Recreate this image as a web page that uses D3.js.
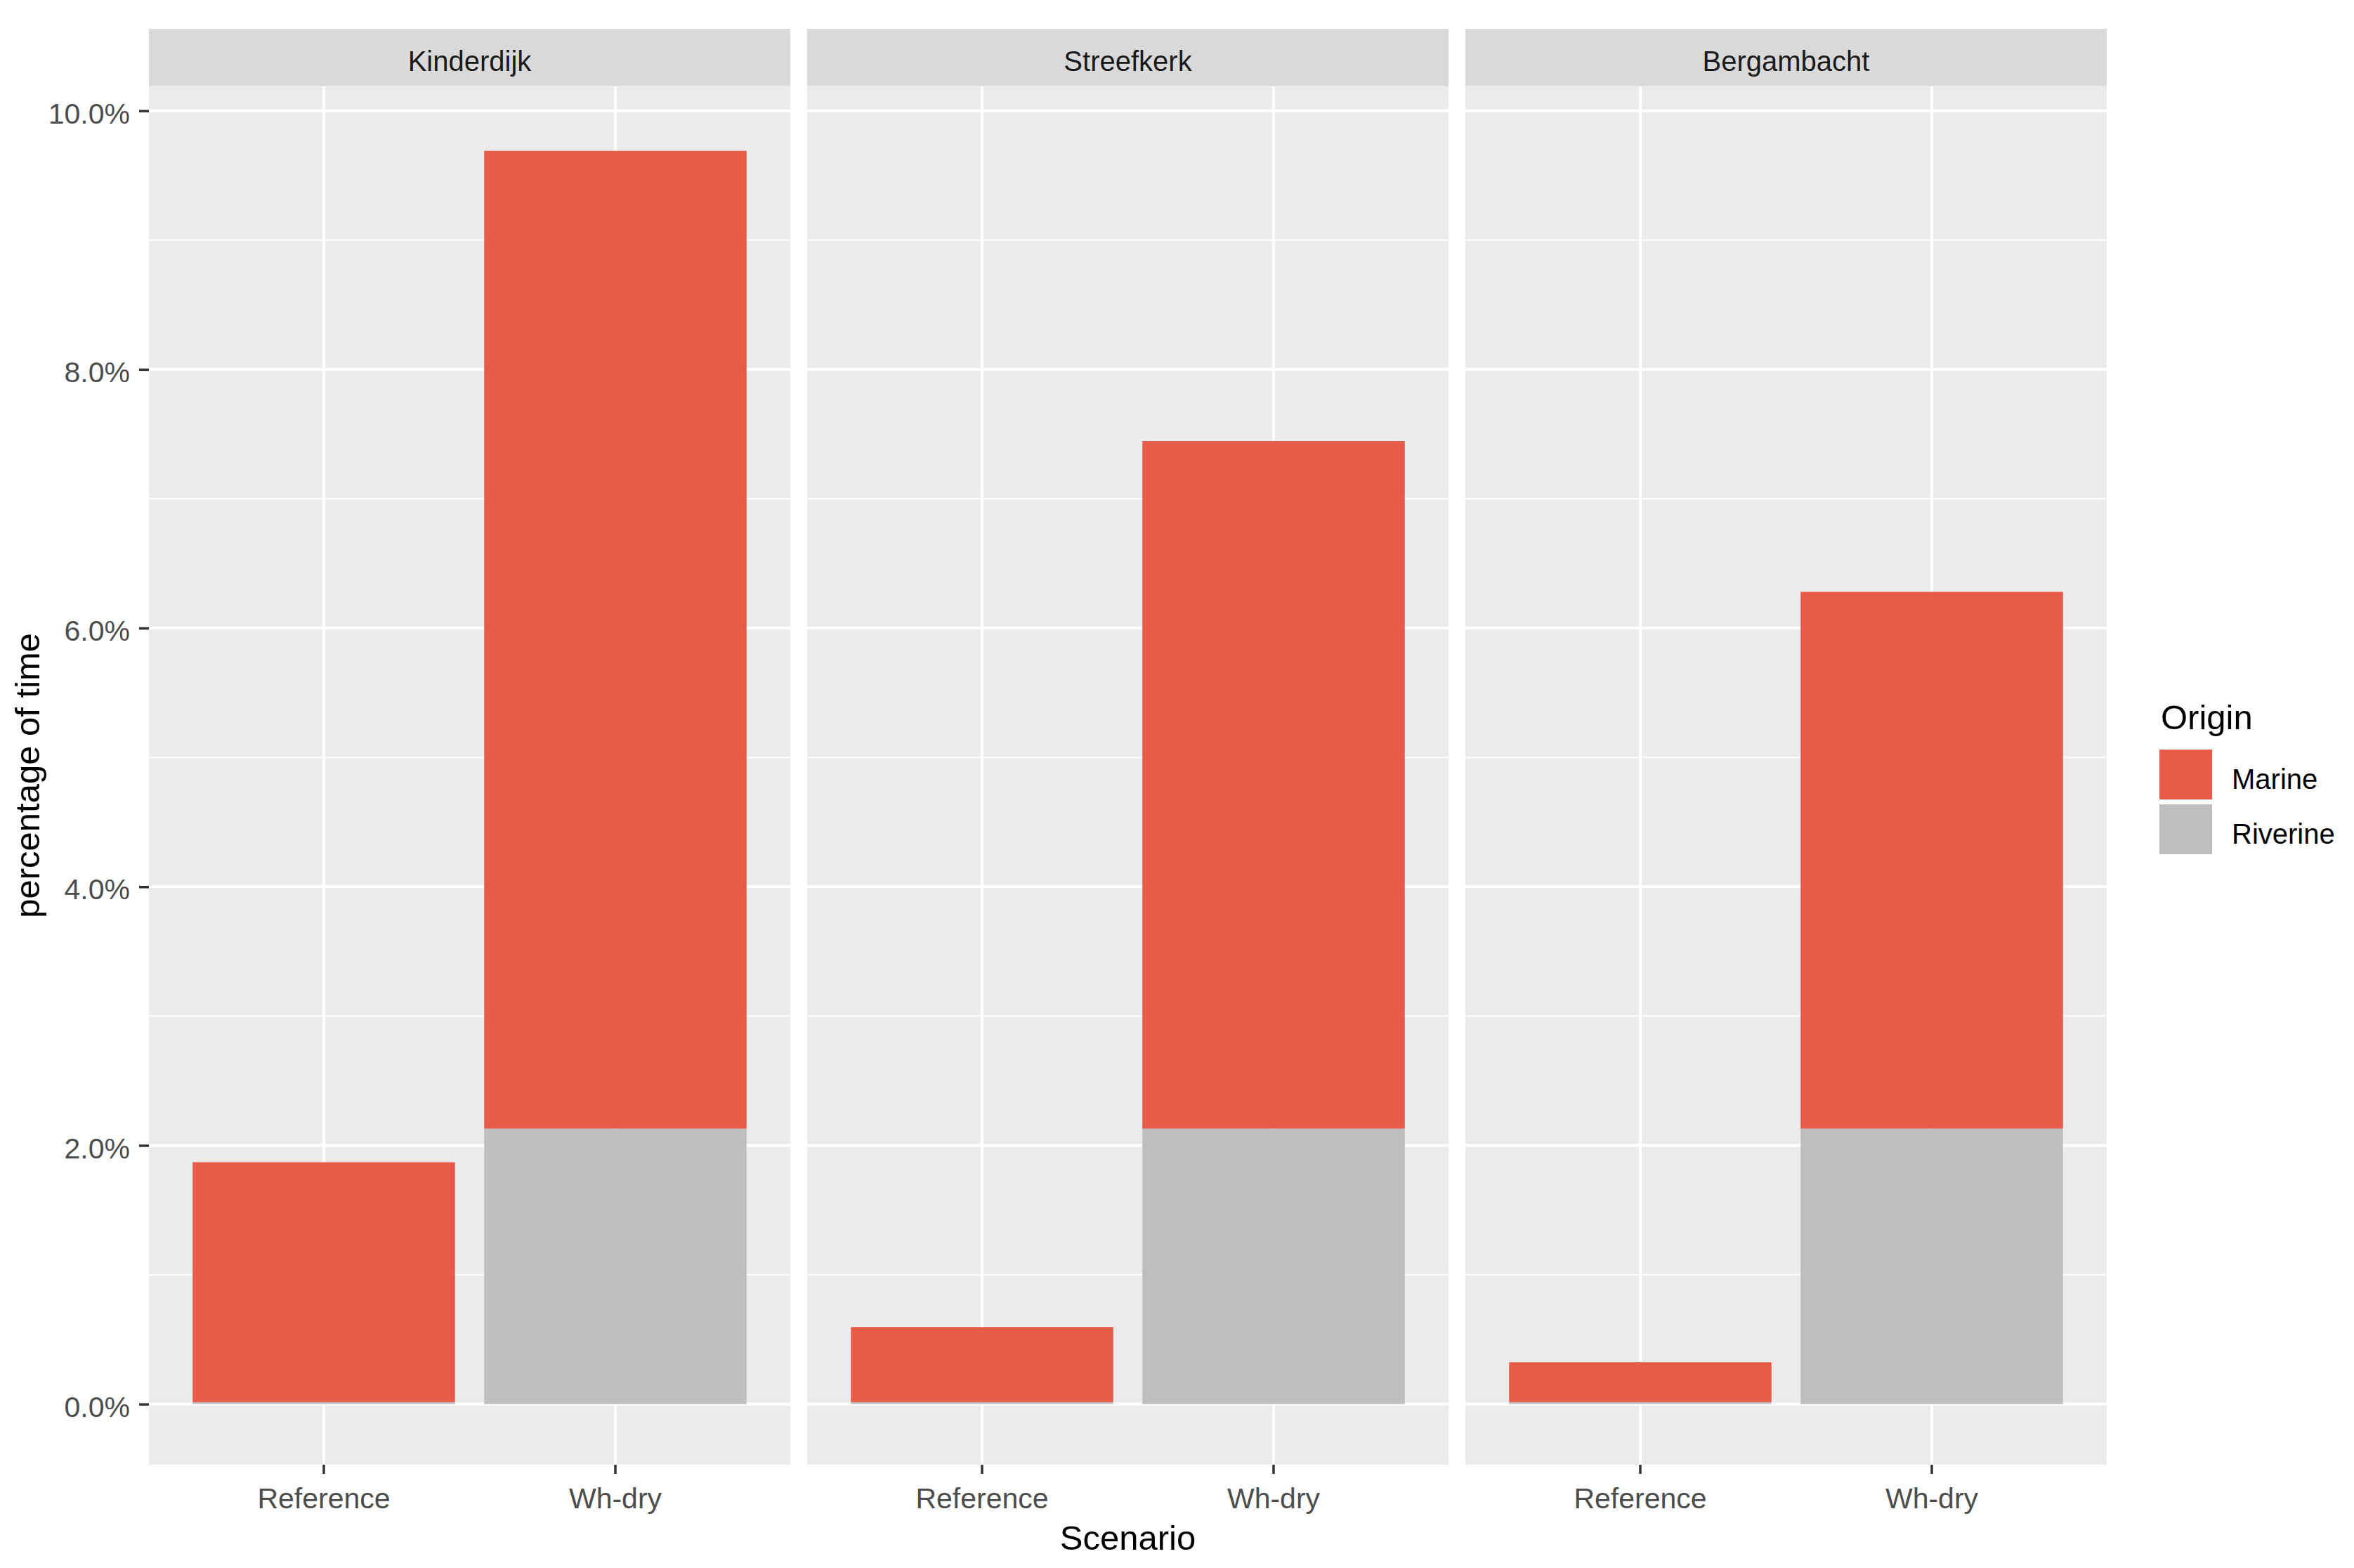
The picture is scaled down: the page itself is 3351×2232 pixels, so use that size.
<!DOCTYPE html>
<html>
<head>
<meta charset="utf-8">
<script src="https://cdn.jsdelivr.net/npm/d3@7/dist/d3.min.js"></script>
<style>
  html, body { margin: 0; padding: 0; background: #ffffff; }
  svg { display: block; }
  text { font-family: "Liberation Sans", Arial, sans-serif; }
</style>
</head>
<body>
<script>
// ---------------- data ----------------
const facets = ["Kinderdijk", "Streefkerk", "Bergambacht"];
const scenarios = ["Reference", "Wh-dry"];
const origins = ["Marine", "Riverine"];
// values in percent of time, per facet: [Reference, Wh-dry]
const marineValues = [[1.855, 7.56], [0.58, 5.315], [0.308, 4.15]];
const riverineValues = [[0.015, 2.13], [0.015, 2.13], [0.015, 2.13]];
const yMajorTicks = [0, 2, 4, 6, 8, 10];
const yMinorTicks = [1, 3, 5, 7, 9];
const originColors = ["#E85B48", "#BEBEBE"];
const xTitle = "Scenario";
const yTitle = "percentage of time";
const legendTitle = "Origin";

// ---------------- layout ----------------
const W = 3351, H = 2232;
const plotLeft = 212, plotRight = 2999, panelGap = 24;
const stripTop = 41, panelTop = 122.7, panelBottom = 2085;
const panelW = (plotRight - plotLeft - 2 * panelGap) / facets.length;
// visible y-range of the panels (with ggplot-like expansion)
const yLimits = [-0.469, 10.19];

const svg = d3.select("body").append("svg")
  .attr("width", W).attr("height", H)
  .attr("viewBox", `0 0 ${W} ${H}`);
svg.append("rect").attr("width", W).attr("height", H).attr("fill", "#ffffff");

// build rows
const rows = [];
facets.forEach((f, i) => {
  scenarios.forEach((s, j) => {
    rows.push({ facet: f, scenario: s, Marine: marineValues[i][j], Riverine: riverineValues[i][j] });
  });
});

const y = d3.scaleLinear().domain(yLimits).range([panelBottom, panelTop]);
const colorScale = d3.scaleOrdinal().domain(origins).range(originColors);
const stack = d3.stack().keys(["Riverine", "Marine"]);

facets.forEach((f, i) => {
  const px = plotLeft + i * (panelW + panelGap);
  const g = svg.append("g").attr("transform", `translate(${px},0)`);
  const x = d3.scaleBand().domain(scenarios).range([0, panelW])
    .paddingInner(0.1).paddingOuter(0.15);

  // strip
  g.append("rect").attr("x", 0).attr("y", stripTop)
    .attr("width", panelW).attr("height", panelTop - stripTop)
    .attr("fill", "#D9D9D9");
  g.append("text").attr("x", panelW / 2).attr("y", 101)
    .attr("text-anchor", "middle").attr("font-size", 40)
    .attr("fill", "#1A1A1A").text(f);

  // panel background
  g.append("rect").attr("x", 0).attr("y", panelTop)
    .attr("width", panelW).attr("height", panelBottom - panelTop)
    .attr("fill", "#EBEBEB");

  // minor gridlines
  g.selectAll(".minor").data(yMinorTicks).enter().append("line")
    .attr("x1", 0).attr("x2", panelW)
    .attr("y1", d => y(d)).attr("y2", d => y(d))
    .attr("stroke", "#ffffff").attr("stroke-width", 2);
  // major gridlines
  g.selectAll(".major").data(yMajorTicks).enter().append("line")
    .attr("x1", 0).attr("x2", panelW)
    .attr("y1", d => y(d)).attr("y2", d => y(d))
    .attr("stroke", "#ffffff").attr("stroke-width", 4);
  g.selectAll(".vmajor").data(scenarios).enter().append("line")
    .attr("x1", d => x(d) + x.bandwidth() / 2).attr("x2", d => x(d) + x.bandwidth() / 2)
    .attr("y1", panelTop).attr("y2", panelBottom)
    .attr("stroke", "#ffffff").attr("stroke-width", 4);

  // bars
  const data = rows.filter(r => r.facet === f);
  const series = stack(data);
  series.forEach(s => {
    g.selectAll(null).data(s).enter().append("rect")
      .attr("x", d => x(d.data.scenario))
      .attr("width", x.bandwidth())
      .attr("y", d => y(d[1]))
      .attr("height", d => y(d[0]) - y(d[1]))
      .attr("fill", colorScale(s.key));
  });

  // x axis
  const xAxis = g.append("g").attr("transform", `translate(0,${panelBottom})`)
    .call(d3.axisBottom(x).tickSize(13).tickPadding(19.5));
  xAxis.select(".domain").remove();
  xAxis.selectAll(".tick line").attr("stroke", "#333333").attr("stroke-width", 3.5);
  xAxis.selectAll(".tick text").attr("font-size", 41).attr("fill", "#4D4D4D")
    .attr("font-family", "Liberation Sans, Arial, sans-serif");

  // y axis on the first panel
  if (i === 0) {
    const yAxis = g.append("g")
      .call(d3.axisLeft(y).tickValues(yMajorTicks)
        .tickFormat(d => d.toFixed(1) + "%").tickSize(14).tickPadding(13));
    yAxis.select(".domain").remove();
    yAxis.selectAll(".tick line").attr("stroke", "#333333").attr("stroke-width", 3.5);
    yAxis.selectAll(".tick text").attr("font-size", 41).attr("fill", "#4D4D4D")
      .attr("dy", "0.43em")
      .attr("font-family", "Liberation Sans, Arial, sans-serif");
  }
});

// axis titles
svg.append("text").attr("x", (plotLeft + plotRight) / 2).attr("y", 2206)
  .attr("text-anchor", "middle").attr("font-size", 49).attr("fill", "#000000")
  .text(xTitle);
svg.append("text")
  .attr("transform", `translate(56,${(panelTop + panelBottom) / 2}) rotate(-90)`)
  .attr("text-anchor", "middle").attr("font-size", 49).attr("fill", "#000000")
  .text(yTitle);

// legend
const lg = svg.append("g");
lg.append("text").attr("x", 3076).attr("y", 1038)
  .attr("font-size", 49).attr("fill", "#000000").text(legendTitle);
const keyTops = [1067, 1145];
origins.forEach((o, k) => {
  lg.append("rect").attr("x", 3074).attr("y", keyTops[k])
    .attr("width", 75).attr("height", 71).attr("fill", colorScale(o));
  lg.append("text").attr("x", 3177).attr("y", keyTops[k] + 56)
    .attr("font-size", 40).attr("fill", "#000000").text(o);
});
</script>
</body>
</html>
